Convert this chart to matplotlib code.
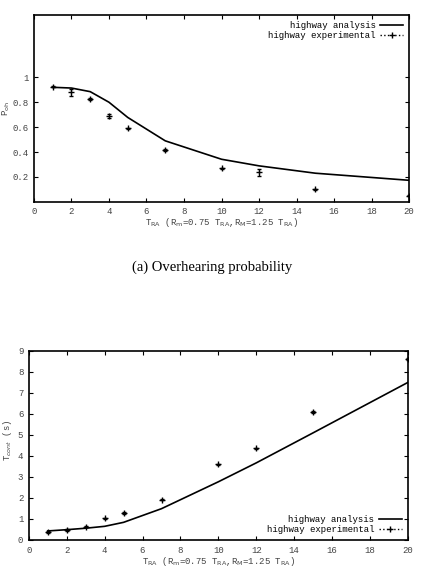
import matplotlib
matplotlib.use('Agg')
import matplotlib.pyplot as plt
from matplotlib.lines import Line2D

# dados
tra = [1, 2, 3, 4, 5, 7, 10, 12, 15, 20]
poh_analise = [0.92, 0.914, 0.885, 0.80, 0.678, 0.49, 0.342, 0.289, 0.23, 0.173]
poh_exp = [0.925, 0.88, 0.825, 0.69, 0.59, 0.417, 0.27, 0.238, 0.10, 0.05]
poh_err = [0.005, 0.03, 0.005, 0.015, 0.005, 0.005, 0.005, 0.028, 0.005, 0.005]
tcont_analise = [0.43, 0.49, 0.56, 0.65, 0.84, 1.49, 2.77, 3.67, 5.1, 7.5]
tcont_exp = [0.38, 0.48, 0.64, 1.03, 1.29, 1.91, 3.61, 4.36, 6.09, 8.62]
tcont_err = [0.03, 0.03, 0.03, 0.03, 0.03, 0.03, 0.03, 0.03, 0.03, 0.03]

mono = 'Liberation Mono'
cinza = '#444444'
xlabel = r'T$_{\rm RA}$ (R$_{\rm m}$=0.75 T$_{\rm RA}$,R$_{\rm M}$=1.25 T$_{\rm RA}$)'

fig = plt.figure(figsize=(4.24, 5.8), dpi=100)

def estilo(ax):
    for s in ax.spines.values():
        s.set_linewidth(1.2)
    ax.tick_params(direction='in', length=3, top=True, right=True,
                   labelsize=6.5, labelcolor=cinza, pad=4)
    for l in ax.get_xticklabels() + ax.get_yticklabels():
        l.set_family(mono)
    ax.set_xlim(0, 20)
    ax.set_xticks(range(0, 21, 2))

def legenda(ax, loc):
    h = [Line2D([], [], color='k', lw=1.2),
         Line2D([], [], color='k', lw=1, ls=':', marker='+', markersize=4)]
    ax.legend(h, ['highway analysis', 'highway experimental'], loc=loc,
              frameon=False, markerfirst=False, handlelength=2.5,
              prop={'family': mono, 'size': 6.5}, labelspacing=0.05,
              borderaxespad=0.3, handletextpad=0.5)

ax1 = fig.add_axes([0.080, 0.652, 0.885, 0.322])
ax1.plot(tra, poh_analise, color='k', lw=1.2)
ax1.errorbar(tra, poh_exp, yerr=poh_err, fmt='+', color='k', markersize=4,
             capsize=1.5, elinewidth=0.8, mew=1)
ax1.set_ylim(0, 1.5)
ax1.set_yticks([0.2, 0.4, 0.6, 0.8, 1])
ax1.set_yticklabels(['0.2', '0.4', '0.6', '0.8', '1'])
estilo(ax1)
ax1.set_xlabel(xlabel, family=mono, fontsize=6.5, color=cinza, labelpad=0)
ax1.set_ylabel(r'P$_{\rm oh}$', family=mono, fontsize=6.5, color=cinza, va='center')
ax1.yaxis.set_label_coords(-0.073, 0.5)
legenda(ax1, 'upper right')

fig.text(0.5, 0.54, '(a) Overhearing probability', ha='center', va='center',
         family='Liberation Serif', fontsize=10.5)

ax2 = fig.add_axes([0.068, 0.069, 0.894, 0.326])
ax2.plot(tra, tcont_analise, color='k', lw=1.2)
ax2.errorbar(tra, tcont_exp, yerr=tcont_err, fmt='+', color='k', markersize=4,
             capsize=1.5, elinewidth=0.8, mew=1)
ax2.set_ylim(0, 9)
ax2.set_yticks(range(0, 10))
estilo(ax2)
ax2.set_xlabel(xlabel, family=mono, fontsize=6.5, color=cinza, labelpad=0)
ax2.set_ylabel(r'T$_{cont}$ (s)', family=mono, fontsize=6.5, color=cinza, va='center')
ax2.yaxis.set_label_coords(-0.056, 0.53)
legenda(ax2, 'lower right')

plt.savefig('out.png', dpi=100)
